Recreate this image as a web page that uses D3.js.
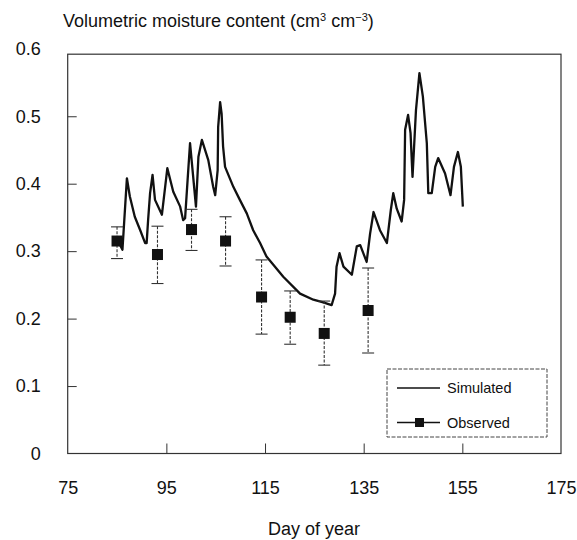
<!DOCTYPE html>
<html>
<head>
<meta charset="utf-8">
<script src="https://cdn.jsdelivr.net/npm/d3@7"></script>
<style>
  body { margin: 0; background: #fff; }
  svg text { font-family: "Liberation Sans", Arial, sans-serif; fill: #111; }
</style>
</head>
<body>
<div id="chart"></div>
<script>
// simulated series (day of year, volumetric moisture)
const simDays = [85.2, 86.1, 87.0, 87.6, 88.6, 89.7, 90.7, 91.0, 91.3, 91.7, 92.2, 92.7, 94.1, 95.2, 96.4, 97.8,
  98.4, 98.8, 99.3, 99.8, 101.0, 101.5, 102.2, 103.5, 104.5, 104.9, 105.4, 105.5, 105.9, 106.2, 106.5, 106.9,
  108.6, 109.9, 111.3, 112.6, 114.0, 115.3, 118.7, 122.1, 124.8, 126.8, 128.5, 129.2, 129.5, 130.1, 130.9,
  132.6, 133.6, 134.3, 135.6, 136.3, 137.0, 138.3, 139.7, 140.5, 141.0, 141.7, 142.7, 143.2, 143.4, 144.0,
  144.5, 144.9, 145.6, 146.3, 147.0, 147.8, 148.1, 148.8, 149.5, 150.1, 151.5, 152.6, 153.3, 154.1, 154.7, 155.1];
const simValues = [0.315, 0.302, 0.408, 0.381, 0.351, 0.331, 0.312, 0.312, 0.346, 0.386, 0.413, 0.376, 0.354, 0.423, 0.388, 0.366,
  0.346, 0.349, 0.405, 0.460, 0.366, 0.440, 0.465, 0.435, 0.395, 0.383, 0.420, 0.484, 0.521, 0.504, 0.455, 0.425,
  0.395, 0.376, 0.356, 0.331, 0.312, 0.292, 0.262, 0.237, 0.228, 0.224, 0.220, 0.237, 0.277, 0.297, 0.277,
  0.265, 0.307, 0.309, 0.284, 0.326, 0.358, 0.331, 0.312, 0.361, 0.386, 0.363, 0.344, 0.376, 0.480, 0.502,
  0.475, 0.410, 0.509, 0.564, 0.529, 0.460, 0.386, 0.386, 0.425, 0.438, 0.415, 0.383, 0.425, 0.447, 0.425, 0.366];

// observed points with error bars
const obsDays = [85.0, 93.2, 100.1, 107.0, 114.3, 120.1, 127.0, 135.9];
const obsValues = [0.315, 0.295, 0.332, 0.315, 0.232, 0.202, 0.178, 0.212];
const obsUpper = [0.336, 0.337, 0.362, 0.351, 0.287, 0.241, 0.226, 0.275];
const obsLower = [0.289, 0.252, 0.301, 0.278, 0.177, 0.162, 0.131, 0.149];

const xTicks = [75, 95, 115, 135, 155, 175];
const yTicks = [0, 0.1, 0.2, 0.3, 0.4, 0.5, 0.6];
const legendLabels = ["Simulated", "Observed"];

const width = 577, height = 540;
const x = d3.scaleLinear().domain([75, 175]).range([67.7, 561]);
const y = d3.scaleLinear().domain([0, 0.6]).range([453.5, 48.8]);
const frameTop = 0.592;   // the box stops a bit under 0.6

const svg = d3.select("#chart").append("svg")
  .attr("width", width)
  .attr("height", height);

// title
const title = svg.append("text")
  .attr("x", 63)
  .attr("y", 27)
  .style("font-size", "18px");
title.append("tspan").text("Volumetric moisture content (cm");
title.append("tspan").attr("dy", -6).style("font-size", "11px").text("3");
title.append("tspan").attr("dy", 6).text(" cm");
title.append("tspan").attr("dy", -6).style("font-size", "11px").text("\u22123");
title.append("tspan").attr("dy", 6).text(")");

// frame
svg.append("rect")
  .attr("x", x(75))
  .attr("y", y(frameTop))
  .attr("width", x(175) - x(75))
  .attr("height", y(0) - y(frameTop))
  .attr("fill", "none")
  .attr("stroke", "#333")
  .attr("stroke-width", 1.2);

// x axis
const xAxis = svg.append("g")
  .attr("transform", `translate(0,${y(0)})`)
  .call(d3.axisBottom(x).tickValues(xTicks).tickSize(-10).tickPadding(28).tickFormat(d3.format("d")));
xAxis.select(".domain").remove();
xAxis.selectAll(".tick line").attr("stroke", "#333")
  .attr("opacity", d => (d === 75 || d === 175) ? 0 : 1);
xAxis.selectAll("text").style("font-size", "18px").attr("fill", "#111");

// y axis
const yAxis = svg.append("g")
  .attr("transform", `translate(${x(75)},0)`)
  .call(d3.axisLeft(y).tickValues(yTicks).tickSize(-9).tickPadding(27)
    .tickFormat(d => d === 0 ? "0" : d3.format(".1f")(d)));
yAxis.select(".domain").remove();
yAxis.selectAll(".tick line").attr("stroke", "#333")
  .attr("opacity", d => (d === 0 || d === 0.6) ? 0 : 1);
yAxis.selectAll("text").style("font-size", "18px").attr("fill", "#111");

// x axis label
svg.append("text")
  .attr("x", 314)
  .attr("y", 535)
  .attr("text-anchor", "middle")
  .style("font-size", "18px")
  .text("Day of year");

// simulated line
const simData = simDays.map((d, i) => [d, simValues[i]]);
const line = d3.line().x(d => x(d[0])).y(d => y(d[1]));
svg.append("path")
  .datum(simData)
  .attr("d", line)
  .attr("fill", "none")
  .attr("stroke", "#111")
  .attr("stroke-width", 2.3)
  .attr("stroke-linejoin", "round");

// observed error bars
const obs = obsDays.map((d, i) => ({ day: d, v: obsValues[i], hi: obsUpper[i], lo: obsLower[i] }));
const bars = svg.append("g").selectAll("g").data(obs).join("g");
bars.append("line")
  .attr("x1", d => x(d.day)).attr("x2", d => x(d.day))
  .attr("y1", d => y(d.hi)).attr("y2", d => y(d.lo))
  .attr("stroke", "#333").attr("stroke-width", 1.1)
  .attr("stroke-dasharray", "3,1.5");
bars.selectAll(".cap")
  .data(d => [[d.day, d.hi], [d.day, d.lo]])
  .join("line")
  .attr("class", "cap")
  .attr("x1", d => x(d[0]) - 6).attr("x2", d => x(d[0]) + 6)
  .attr("y1", d => y(d[1])).attr("y2", d => y(d[1]))
  .attr("stroke", "#333").attr("stroke-width", 1.1);
bars.append("rect")
  .attr("x", d => x(d.day) - 5.5)
  .attr("y", d => y(d.v) - 5.5)
  .attr("width", 11)
  .attr("height", 11)
  .attr("fill", "#111");

// legend
const legend = svg.append("g");
legend.append("rect")
  .attr("x", 387).attr("y", 369)
  .attr("width", 160).attr("height", 68)
  .attr("fill", "#fff")
  .attr("stroke", "#444")
  .attr("stroke-width", 1)
  .attr("stroke-dasharray", "4,1.5");
legendLabels.forEach((lab, i) => {
  const ly = 388 + i * 34.5;
  legend.append("line")
    .attr("x1", 397).attr("x2", 440)
    .attr("y1", ly).attr("y2", ly)
    .attr("stroke", "#111").attr("stroke-width", 1.4);
  if (i === 1) {
    legend.append("rect")
      .attr("x", 415).attr("y", ly - 4.5)
      .attr("width", 9).attr("height", 9)
      .attr("fill", "#111");
  }
  legend.append("text")
    .attr("x", 447).attr("y", ly + 5)
    .style("font-size", "14.5px")
    .text(lab);
});
</script>
</body>
</html>
